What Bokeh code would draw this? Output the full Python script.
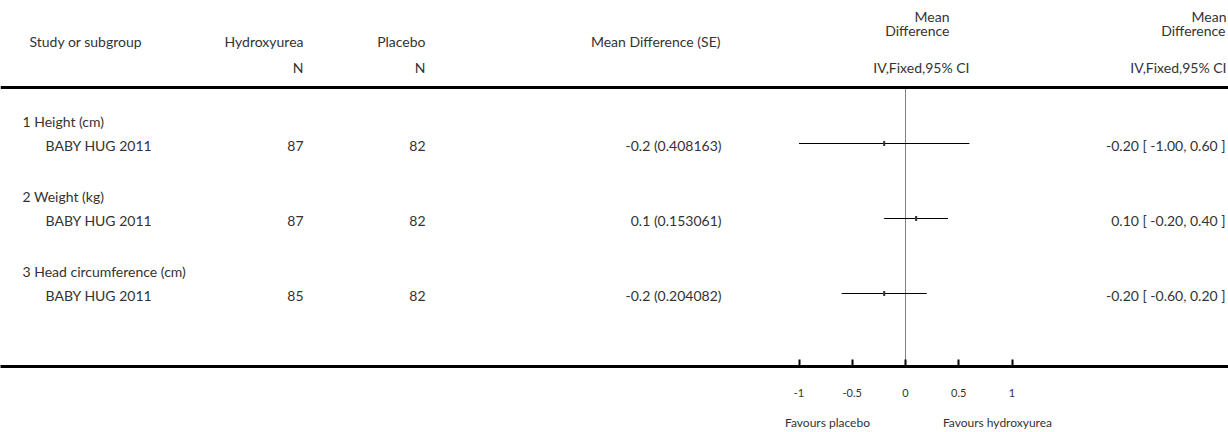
from bokeh.plotting import figure
from bokeh.models import (Range1d, FixedTicker, CustomJSTickFormatter, Span,
                          LinearAxis, ColumnDataSource)
from bokeh.core.properties import value
from bokeh.embed import file_html
from bokeh.resources import INLINE

# ---------------- data ----------------
subgroups = ["1 Height (cm)", "2 Weight (kg)", "3 Head circumference (cm)"]
studies = ["BABY HUG 2011", "BABY HUG 2011", "BABY HUG 2011"]
n_hydroxyurea = [87, 87, 85]
n_placebo = [82, 82, 82]
mean_diff = [-0.2, 0.1, -0.2]
std_err = [0.408163, 0.153061, 0.204082]
ci_low = [-1.00, -0.20, -0.60]
ci_high = [0.60, 0.40, 0.20]
tick_values = [-1, -0.5, 0, 0.5, 1]
favours_left = "Favours placebo"
favours_right = "Favours hydroxyurea"

# ---------------- layout helpers ----------------
W, H = 1228, 432
FRAME_H = 366
ZERO_PX = 905.0          # pixel position of effect 0
PX_PER_UNIT = 106.5      # pixels per unit of mean difference
ROW0_Y = 143             # y (px from top) of first study line
ROW_STEP = 75
TOP_RULE = 87

def xd(px):
    return (px - ZERO_PX) / PX_PER_UNIT

FONT = value("Lato")
TXT_COLOR = "#333333"
FS = "14px"

p = figure(width=W, height=H, output_backend="svg", toolbar_location=None,
           x_range=Range1d(xd(0), xd(W)), y_range=Range1d(FRAME_H, 0),
           min_border_left=0, min_border_right=0, min_border_top=0,
           min_border_bottom=H - FRAME_H, y_axis_location=None)
p.xgrid.visible = False
p.ygrid.visible = False
p.outline_line_color = None
p.background_fill_color = "white"
p.border_fill_color = "white"

# main axis (effect scale)
ax = p.xaxis[0]
ax.ticker = FixedTicker(ticks=tick_values)
ax.formatter = CustomJSTickFormatter(code="return tick.toString();")
ax.minor_tick_line_color = None
ax.major_tick_in = 7
ax.major_tick_out = 0
ax.major_tick_line_width = 2
ax.major_tick_line_color = "black"
ax.axis_line_width = 3
ax.axis_line_color = "black"
ax.major_label_standoff = 22
ax.major_label_text_font = "Lato"
ax.major_label_text_font_size = "11px"
ax.major_label_text_color = TXT_COLOR

# second axis carrying the "Favours" captions
fav_axis = LinearAxis(
    ticker=FixedTicker(ticks=[xd(827), xd(997)]),
    formatter=CustomJSTickFormatter(args=dict(left=favours_left, right=favours_right),
                                    code="return tick < 0 ? left : right;"),
    axis_line_color=None, major_tick_line_color=None, minor_tick_line_color=None,
    major_tick_in=0, major_tick_out=0, major_label_standoff=15,
    major_label_text_font="Lato", major_label_text_font_size="12px",
    major_label_text_color=TXT_COLOR)
p.add_layout(fav_axis, "below")


def add_text(xs, ys, texts, align, baseline="middle", size=FS):
    src = ColumnDataSource(dict(x=xs, y=ys, t=texts))
    p.text(x="x", y="y", text="t", source=src, text_align=align,
           text_baseline=baseline, text_font=FONT, text_font_size=size,
           text_color=TXT_COLOR)

# header
add_text([xd(29)], [41], ["Study or subgroup"], "left")
add_text([xd(303), xd(425), xd(720)], [41, 41, 41],
         ["Hydroxyurea", "Placebo", "Mean Difference (SE)"], "right")
add_text([xd(303), xd(425)], [67, 67], ["N", "N"], "right")
add_text([xd(949), xd(1226)], [16, 16], ["Mean", "Mean"], "right")
add_text([xd(949), xd(1225)], [30, 30], ["Difference", "Difference"], "right")
add_text([xd(969), xd(1226)], [67, 67], ["IV,Fixed,95% CI", "IV,Fixed,95% CI"], "right")

p.add_layout(Span(location=TOP_RULE, dimension="width", line_color="black", line_width=3))

# rows
n = len(studies)
row_y = [ROW0_Y + ROW_STEP * i for i in range(n)]
add_text([xd(22)] * n, [y - 22 for y in row_y], subgroups, "left")
add_text([xd(45)] * n, [y + 2 for y in row_y], studies, "left")
add_text([xd(303)] * n, [y + 2 for y in row_y], [str(v) for v in n_hydroxyurea], "right")
add_text([xd(425)] * n, [y + 2 for y in row_y], [str(v) for v in n_placebo], "right")
add_text([xd(721)] * n, [y + 2 for y in row_y],
         [f"{m:g} ({s:g})" for m, s in zip(mean_diff, std_err)], "right")
add_text([xd(1225)] * n, [y + 2 for y in row_y],
         [f"{m:.2f} [ {lo:.2f}, {hi:.2f} ]" for m, lo, hi in zip(mean_diff, ci_low, ci_high)],
         "right")

# vertical line of no effect
p.segment(x0=[0], y0=[TOP_RULE], x1=[0], y1=[FRAME_H], line_color="#808080", line_width=1)

# confidence intervals and point estimates
p.segment(x0=ci_low, y0=row_y, x1=ci_high, y1=row_y, line_color="black", line_width=1)
p.rect(x=mean_diff, y=row_y, width=2, height=5, width_units="screen",
       height_units="screen", fill_color="#333333", line_color=None)

open("out.html", "w").write(file_html(p, INLINE))
